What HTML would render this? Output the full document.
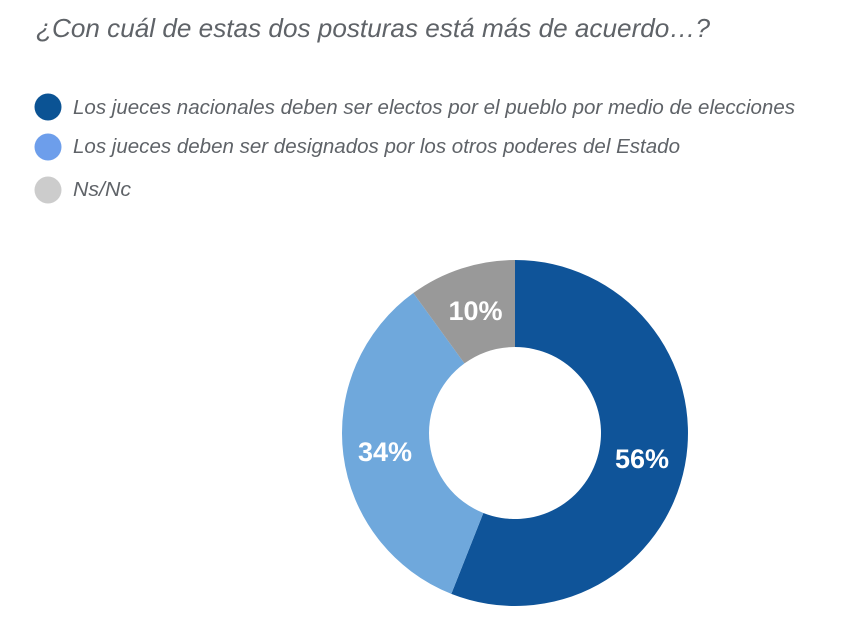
<!DOCTYPE html>
<html>
<head>
<meta charset="utf-8">
<style>
  html, body { margin: 0; padding: 0; background: #ffffff; }
  body { width: 862px; height: 621px; overflow: hidden; }
  svg { display: block; }
  .t { font-family: "Liberation Sans", Arial, sans-serif; font-style: italic; fill: #5f6368; }
  .p { font-family: "Liberation Sans", Arial, sans-serif; font-weight: bold; fill: #ffffff; }
</style>
</head>
<body>
<svg width="862" height="621" viewBox="0 0 862 621" xmlns="http://www.w3.org/2000/svg">
  <rect width="862" height="621" fill="#ffffff"/>
  <text class="t" x="36" y="37" font-size="26" textLength="674" lengthAdjust="spacingAndGlyphs">¿Con cuál de estas dos posturas está más de acuerdo…?</text>

  <circle cx="48" cy="107" r="13.5" fill="#0b5394"/>
  <text class="t" x="73" y="114" font-size="20.5" textLength="722" lengthAdjust="spacingAndGlyphs">Los jueces nacionales deben ser electos por el pueblo por medio de elecciones</text>

  <circle cx="48" cy="147" r="13.5" fill="#6d9eeb"/>
  <text class="t" x="73" y="153" font-size="20.5" textLength="607" lengthAdjust="spacingAndGlyphs">Los jueces deben ser designados por los otros poderes del Estado</text>

  <circle cx="48" cy="190" r="13.5" fill="#cccccc"/>
  <text class="t" x="73" y="196" font-size="20.5" textLength="58" lengthAdjust="spacingAndGlyphs">Ns/Nc</text>

  <path d="M515,260 A173,173 0 1 1 451.32,593.86 L483.34,512.96 A86,86 0 1 0 515,347 Z" fill="#0f5499"/>
  <path d="M451.32,593.86 A173,173 0 0 1 413.31,293.04 L464.45,363.43 A86,86 0 0 0 483.34,512.96 Z" fill="#6fa8dc"/>
  <path d="M413.31,293.04 A173,173 0 0 1 515,260 L515,347 A86,86 0 0 0 464.45,363.43 Z" fill="#999999"/>

  <text class="p" x="475.5" y="320" font-size="27" text-anchor="middle">10%</text>
  <text class="p" x="385" y="461" font-size="27" text-anchor="middle">34%</text>
  <text class="p" x="642" y="468" font-size="27" text-anchor="middle">56%</text>
</svg>
</body>
</html>
